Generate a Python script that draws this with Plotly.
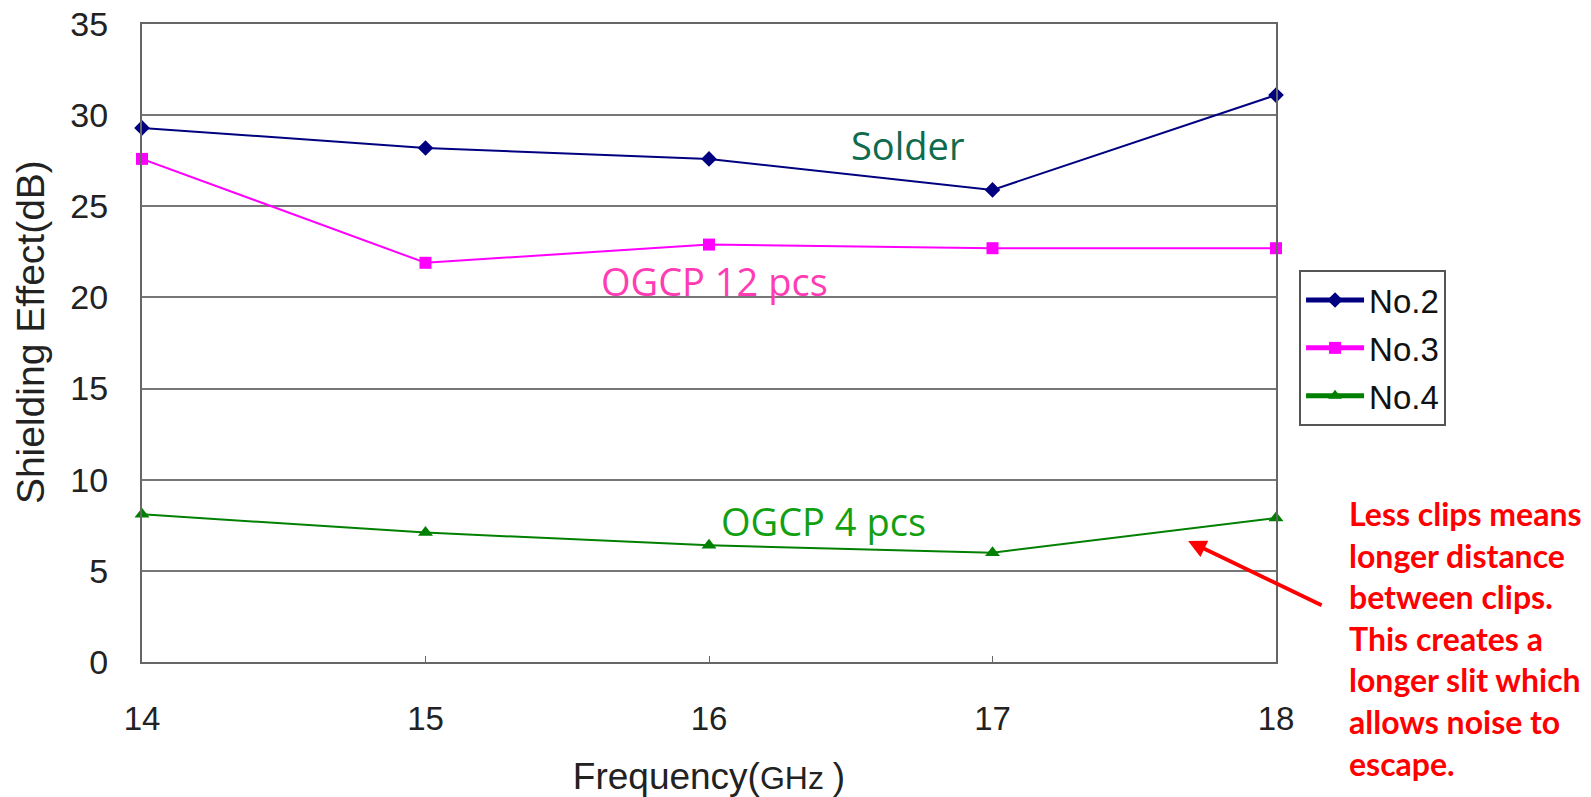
import plotly.graph_objects as go

# Shielding effectiveness vs. frequency for three clip configurations
freq_ghz = [14, 15, 16, 17, 18]
no2_db = [29.3, 28.2, 27.6, 25.9, 31.1]
no3_db = [27.6, 21.9, 22.9, 22.7, 22.7]
no4_db = [8.1, 7.1, 6.4, 6.0, 7.9]

series_names = ["No.2", "No.3", "No.4"]
y_ticks = [0, 5, 10, 15, 20, 25, 30, 35]

note_lines = [
    "Less clips means",
    "longer distance",
    "between clips.",
    "This creates a",
    "longer slit which",
    "allows noise to",
    "escape.",
]

fig = go.Figure()
fig.add_trace(go.Scatter(
    x=freq_ghz, y=no2_db, name=series_names[0], mode="lines+markers",
    legendgroup="g2",
    line=dict(color="#000080", width=2),
    marker=dict(symbol="diamond", size=12, color="#000080"),
    cliponaxis=False,
))
fig.add_trace(go.Scatter(
    x=freq_ghz, y=no3_db, name=series_names[1], mode="lines+markers",
    legendgroup="g3",
    line=dict(color="#ff00ff", width=2),
    marker=dict(symbol="square", size=12, color="#ff00ff"),
    cliponaxis=False,
))
fig.add_trace(go.Scatter(
    x=freq_ghz, y=no4_db, name=series_names[2], mode="lines+markers",
    legendgroup="g4",
    line=dict(color="#008000", width=2),
    marker=dict(symbol="triangle-up", size=13, color="#008000"),
    cliponaxis=False,
))

label_font = "Open Sans, Noto Sans, sans-serif"
fig.add_annotation(x=16.70, y=28.36, text="Solder", showarrow=False,
                   font=dict(family=label_font, size=38, color="#0e6b4c"))
fig.add_annotation(x=16.02, y=20.9, text="OGCP 12 pcs", showarrow=False,
                   font=dict(family=label_font, size=38, color="#ff3cb4"))
fig.add_annotation(x=16.405, y=7.76, text="OGCP 4 pcs", showarrow=False,
                   font=dict(family=label_font, size=38, color="#12a012"))

# Vertical axis title, placed as a rotated annotation
fig.add_annotation(
    xref="paper", yref="paper", x=-0.0988, y=0.517,
    xanchor="center", yanchor="middle", textangle=-90, showarrow=False,
    text="Shielding Effect(dB)",
    font=dict(family="Liberation Sans, Arial, sans-serif", size=39, color="#222222"),
)

# Explanatory note and arrow pointing at the No.4 curve
fig.add_annotation(
    xref="paper", yref="paper", x=1.0626, y=0.266,
    xanchor="left", yanchor="top", align="left", showarrow=False,
    text="<br>".join(note_lines),
    font=dict(family="Lato, Open Sans, sans-serif", size=32, color="#ff0000",
              weight="bold"),
)
fig.add_annotation(
    x=17.69, y=6.64, ax=135, ay=65,
    showarrow=True, arrowhead=2, arrowsize=0.9, arrowwidth=4,
    arrowcolor="#ff0000", text="", standoff=0,
)

fig.update_layout(
    width=1591, height=797,
    margin=dict(l=142, r=315, t=24, b=135),
    paper_bgcolor="white", plot_bgcolor="white",
    font=dict(family="Liberation Sans, Arial, sans-serif", color="#222222"),
    showlegend=True,
    legend=dict(
        xref="container", yref="container",
        x=0.8165, y=0.6612, xanchor="left", yanchor="top",
        bordercolor="#555555", borderwidth=2, bgcolor="white",
        font=dict(size=33, color="#111111"),
        tracegroupgap=2, itemsizing="constant", itemwidth=58,
    ),
    xaxis=dict(
        range=[14, 18], tickvals=freq_ghz, automargin=False,
        showgrid=False, zeroline=False,
        showline=True, linecolor="#666666", linewidth=2, mirror=True,
        ticks="inside", ticklen=6, tickcolor="#666666",
        ticklabelstandoff=26,
        tickfont=dict(size=33),
        title=dict(text="Frequency(<span style='font-size:32px'>GHz </span>)",
                   font=dict(size=37), standoff=32),
    ),
    yaxis=dict(
        range=[0, 35], tickvals=y_ticks, automargin=False,
        showgrid=True, gridcolor="#777777", gridwidth=2, zeroline=False,
        showline=True, linecolor="#666666", linewidth=2, mirror=True,
        ticks="", ticklabelstandoff=25,
        tickfont=dict(size=34),
    ),
)

fig.write_html("out.html")
